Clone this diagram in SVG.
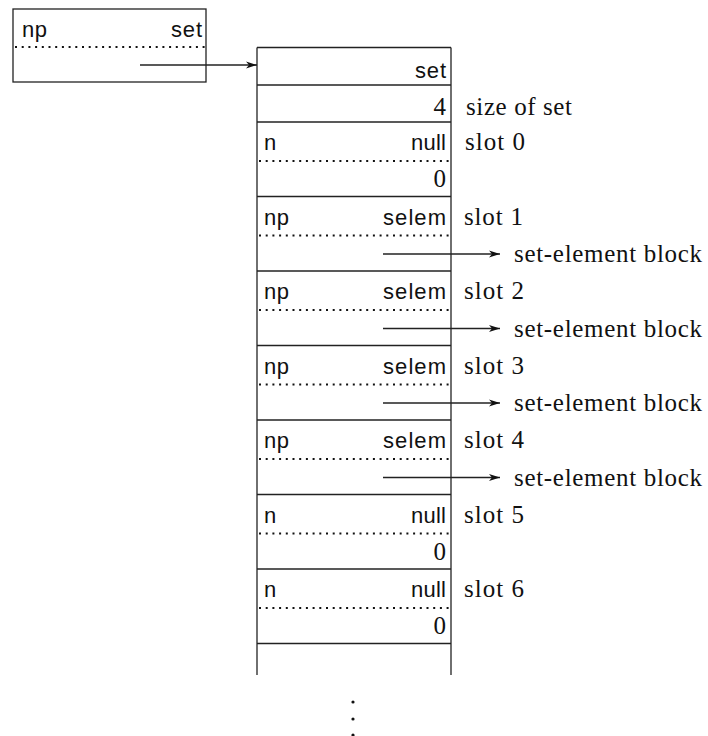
<svg xmlns="http://www.w3.org/2000/svg" width="708" height="736" viewBox="0 0 708 736">
  <defs>
    <marker id="ah" markerUnits="userSpaceOnUse" markerWidth="14" markerHeight="10" refX="11" refY="4" orient="auto" viewBox="0 0 14 8">
      <path d="M0,0.6 L11,4 L0,7.4 L3,4 Z" fill="#111"/>
    </marker>
  </defs>
  <style>
    .box { fill: none; stroke: #222; stroke-width: 1.3; }
    .ln { stroke: #222; stroke-width: 1.3; fill: none; }
    .dot { stroke: #111; stroke-width: 2.1; stroke-dasharray: 2 4.7; fill: none; }
    .sans { font-family: "Liberation Sans", Arial, sans-serif; font-size: 22px; fill: #111; }
    .serif { font-family: "Liberation Serif", "Times New Roman", serif; font-size: 25px; fill: #111; }
    .end { text-anchor: end; }
    .conn { stroke: #222; stroke-width: 1.3; fill: none; marker-end: url(#ah); }
  </style>
  <rect width="708" height="736" fill="#fff"/>

  <g id="pointer">
    <rect class="box" x="13" y="9" width="193" height="73"/>
    <text class="sans" x="22" y="37" textLength="25">np</text>
    <text class="sans end" x="202" y="37" textLength="31">set</text>
    <line class="dot" x1="15" y1="47" x2="205" y2="47"/>
  </g>

  <g id="set-block">
    <line class="ln" x1="257" y1="47.5" x2="451" y2="47.5"/>
    <line class="ln" x1="257" y1="47.5" x2="257" y2="675"/>
    <line class="ln" x1="451" y1="47.5" x2="451" y2="675"/>
    <line class="ln" x1="257" y1="85" x2="451" y2="85"/>
    <line class="ln" x1="257" y1="122" x2="451" y2="122"/>
    <line class="ln" x1="257" y1="196.5" x2="451" y2="196.5"/>
    <line class="ln" x1="257" y1="271" x2="451" y2="271"/>
    <line class="ln" x1="257" y1="345.5" x2="451" y2="345.5"/>
    <line class="ln" x1="257" y1="420" x2="451" y2="420"/>
    <line class="ln" x1="257" y1="494.5" x2="451" y2="494.5"/>
    <line class="ln" x1="257" y1="569" x2="451" y2="569"/>
    <line class="ln" x1="257" y1="643.5" x2="451" y2="643.5"/>
  </g>

  <g id="header">
    <text class="sans end" x="446" y="78" textLength="31">set</text>
    <text class="serif end" x="446" y="115">4</text>
    <text class="serif" x="466" y="115" textLength="106">size of set</text>
  </g>

  <g id="slot0">
    <text class="sans" x="264" y="150">n</text>
    <text class="sans end" x="446" y="150" textLength="35">null</text>
    <line class="dot" x1="259" y1="161" x2="450" y2="161"/>
    <text class="serif end" x="446" y="187">0</text>
    <text class="serif" x="465" y="150" textLength="60">slot 0</text>
  </g>

  <g id="slot1">
    <text class="sans" x="264" y="224.5" textLength="25">np</text>
    <text class="sans end" x="446" y="224.5" textLength="63">selem</text>
    <line class="dot" x1="259" y1="235.5" x2="450" y2="235.5"/>
    <text class="serif" x="464" y="224.5" textLength="59">slot 1</text>
  </g>

  <g id="slot2">
    <text class="sans" x="264" y="299" textLength="25">np</text>
    <text class="sans end" x="446" y="299" textLength="63">selem</text>
    <line class="dot" x1="259" y1="310" x2="450" y2="310"/>
    <text class="serif" x="464" y="299" textLength="60">slot 2</text>
  </g>

  <g id="slot3">
    <text class="sans" x="264" y="373.5" textLength="25">np</text>
    <text class="sans end" x="446" y="373.5" textLength="63">selem</text>
    <line class="dot" x1="259" y1="384.5" x2="450" y2="384.5"/>
    <text class="serif" x="464" y="373.5" textLength="60">slot 3</text>
  </g>

  <g id="slot4">
    <text class="sans" x="264" y="448" textLength="25">np</text>
    <text class="sans end" x="446" y="448" textLength="63">selem</text>
    <line class="dot" x1="259" y1="459" x2="450" y2="459"/>
    <text class="serif" x="464" y="448" textLength="60">slot 4</text>
  </g>

  <g id="slot5">
    <text class="sans" x="264" y="522.5">n</text>
    <text class="sans end" x="446" y="522.5" textLength="35">null</text>
    <line class="dot" x1="259" y1="533.5" x2="450" y2="533.5"/>
    <text class="serif end" x="446" y="560">0</text>
    <text class="serif" x="464" y="522.5" textLength="60">slot 5</text>
  </g>

  <g id="slot6">
    <text class="sans" x="264" y="597">n</text>
    <text class="sans end" x="446" y="597" textLength="35">null</text>
    <line class="dot" x1="259" y1="608" x2="450" y2="608"/>
    <text class="serif end" x="446" y="634">0</text>
    <text class="serif" x="464" y="597" textLength="60">slot 6</text>
  </g>

  <g id="set-element-labels">
    <text class="serif" x="514" y="262" textLength="188">set-element block</text>
    <text class="serif" x="514" y="336.5" textLength="188">set-element block</text>
    <text class="serif" x="514" y="411" textLength="188">set-element block</text>
    <text class="serif" x="514" y="485.5" textLength="188">set-element block</text>
  </g>

  <g id="ellipsis" fill="#111">
    <circle cx="353" cy="702" r="1.6"/>
    <circle cx="353" cy="719" r="1.6"/>
    <circle cx="353" cy="735" r="1.6"/>
  </g>

  <g id="connectors">
    <line class="conn" x1="140" y1="65" x2="257" y2="65"/>
    <line class="conn" x1="383" y1="254" x2="500" y2="254"/>
    <line class="conn" x1="383" y1="328.5" x2="500" y2="328.5"/>
    <line class="conn" x1="383" y1="403" x2="500" y2="403"/>
    <line class="conn" x1="383" y1="477.5" x2="500" y2="477.5"/>
  </g>
</svg>
